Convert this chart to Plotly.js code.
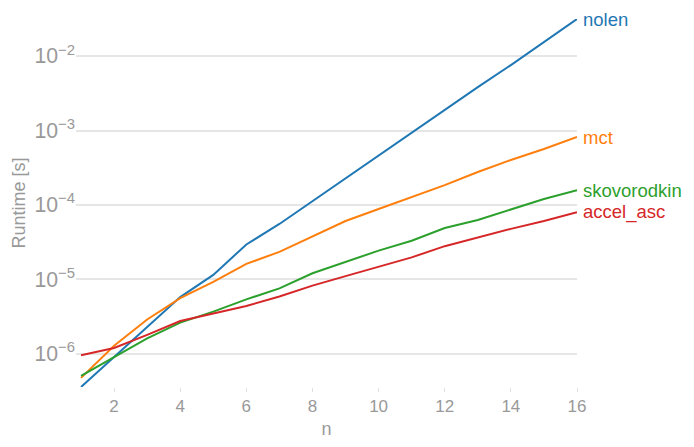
<!DOCTYPE html>
<html>
<head>
<meta charset="utf-8">
<script src="https://cdn.plot.ly/plotly-3.0.1.min.js"></script>
<style>html,body{margin:0;padding:0;background:#fff;}#chart{width:694px;height:447px;}</style>
</head>
<body>
<div id="chart"></div>
<script>
const n = [1, 2, 3, 4, 5, 6, 7, 8, 9, 10, 11, 12, 13, 14, 15, 16];
const nolen = [3.6e-7, 9.1e-7, 2.3e-6, 5.8e-6, 1.15e-5, 2.95e-5, 5.56e-5, 1.13e-4, 2.30e-4, 4.55e-4, 9.25e-4, 1.88e-3, 3.83e-3, 7.56e-3, 1.54e-2, 3.14e-2];
const mct = [4.77e-7, 1.29e-6, 2.9e-6, 5.6e-6, 9.3e-6, 1.62e-5, 2.35e-5, 3.76e-5, 6.09e-5, 8.83e-5, 1.28e-4, 1.85e-4, 2.77e-4, 4.02e-4, 5.65e-4, 8.18e-4];
const skovorodkin = [5.07e-7, 9.0e-7, 1.62e-6, 2.63e-6, 3.7e-6, 5.4e-6, 7.6e-6, 1.21e-5, 1.7e-5, 2.44e-5, 3.31e-5, 4.9e-5, 6.3e-5, 8.8e-5, 1.2e-4, 1.58e-4];
const accel_asc = [9.6e-7, 1.2e-6, 1.8e-6, 2.77e-6, 3.5e-6, 4.4e-6, 5.9e-6, 8.26e-6, 1.11e-5, 1.49e-5, 1.98e-5, 2.8e-5, 3.69e-5, 4.78e-5, 6.1e-5, 7.98e-5];
const seriesNames = ["nolen", "mct", "skovorodkin", "accel_asc"];
const seriesValues = [nolen, mct, skovorodkin, accel_asc];
const colors = ["#1f77b4", "#ff7f0e", "#2ca02c", "#d62728"];
const xTicks = [2, 4, 6, 8, 10, 12, 14, 16];

const font = "Liberation Sans, Arial, Helvetica, sans-serif";
const grey = "#999999";

const traces = seriesNames.map((name, i) => ({
  x: n, y: seriesValues[i], name: name, type: "scatter", mode: "lines",
  line: {color: colors[i], width: 2}, showlegend: false
}));

const annotations = seriesNames.map((name, i) => ({
  x: n[n.length - 1], y: Math.log10(seriesValues[i][seriesValues[i].length - 1]),
  xref: "x", yref: "y", text: name, showarrow: false,
  xanchor: "left", yanchor: "middle", xshift: 4,
  font: {family: font, size: 18.5, color: colors[i]}
}));

const all = seriesValues.flat();
const yMin = Math.log10(Math.min(...all));
const yMax = Math.log10(Math.max(...all));

const layout = {
  width: 694, height: 447,
  margin: {l: 76, r: 117, t: 19, b: 60},
  paper_bgcolor: "#fff", plot_bgcolor: "#fff",
  font: {family: font, size: 17, color: grey},
  xaxis: {
    range: [0.848, 16], tickvals: xTicks, ticktext: xTicks.map(String),
    showgrid: false, zeroline: false, showline: false,
    ticks: "outside", ticklen: 4, tickwidth: 1, tickcolor: "#e0e0e0",
    tickfont: {family: font, size: 17, color: grey},
    title: {text: "n", font: {family: font, size: 18, color: grey}, standoff: 6}
  },
  yaxis: {
    type: "log", range: [yMin, yMax],
    dtick: 1, exponentformat: "power", showexponent: "all",
    showgrid: true, gridcolor: "#e6e6e6", gridwidth: 2,
    zeroline: false, showline: false, ticks: "",
    tickfont: {family: font, size: 17, color: grey},
    title: {text: "Runtime [s]", font: {family: font, size: 18, color: grey}, standoff: 4}
  },
  annotations: annotations
};

Plotly.newPlot("chart", traces, layout, {displayModeBar: false, staticPlot: true});
</script>
</body>
</html>
